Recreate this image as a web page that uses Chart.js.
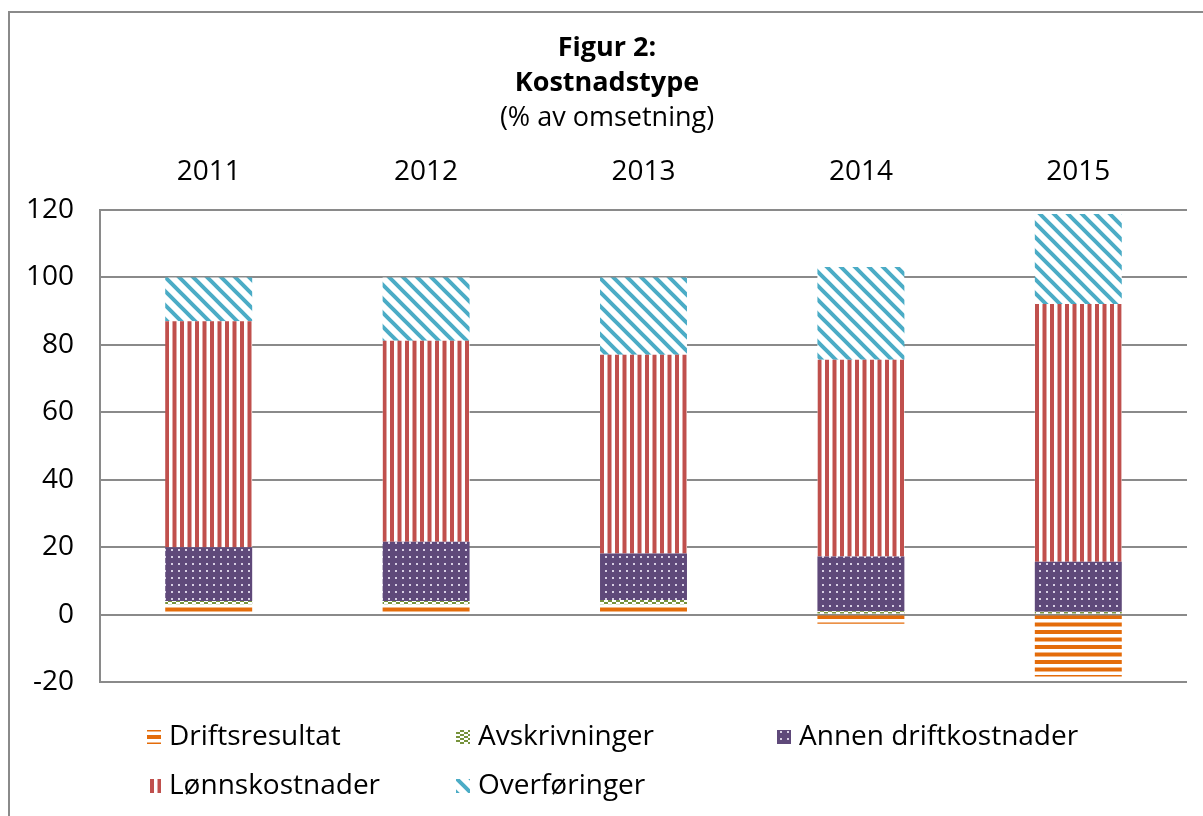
<!DOCTYPE html>
<html>
<head>
<meta charset="utf-8">
<script src="https://cdn.jsdelivr.net/npm/chart.js@4"></script>
<style>
  html, body { margin: 0; padding: 0; background: #fff; }
  #wrap { width: 1203px; height: 816px; }
</style>
</head>
<body>
<div id="wrap"><canvas id="chart" width="1203" height="816"></canvas></div>
<script>
const years = ['2011', '2012', '2013', '2014', '2015'];
const driftsresultat = [3, 3, 3, -2.7, -18.4];
const avskrivninger = [1, 1, 1.3, 1, 0.8];
const annenDrift = [16, 17.6, 13.8, 16.2, 14.9];
const lonnskostnader = [67, 59.6, 59, 58.4, 76.4];
const overforinger = [13, 18.8, 22.9, 27.5, 26.7];
const yTicks = [-20, 0, 20, 40, 60, 80, 100, 120];

const FONT = 'Open Sans';

// little pattern tiles
function makePattern(w, h, draw) {
  const c = document.createElement('canvas');
  c.width = w; c.height = h;
  const g = c.getContext('2d');
  g.fillStyle = '#fff';
  g.fillRect(0, 0, w, h);
  draw(g);
  return document.getElementById('chart').getContext('2d').createPattern(c, 'repeat');
}

const orangeLines = makePattern(15, 15, g => {
  g.fillStyle = '#E46C0A';
  g.fillRect(0, 0, 15, 4);
  g.fillRect(0, 7.5, 15, 4);
});
const greenChecks = makePattern(8, 4, g => {
  g.fillStyle = '#77933C';
  g.fillRect(0, 0, 4, 2);
  g.fillRect(4, 2, 4, 2);
});
const purpleDots = makePattern(7, 7, g => {
  g.fillStyle = '#5F497A';
  g.fillRect(0, 0, 7, 7);
  g.fillStyle = '#D8CFE4';
  g.fillRect(3, 3, 2, 2);
});
const redLines = makePattern(15, 15, g => {
  g.fillStyle = '#C0504D';
  g.fillRect(0, 0, 4, 15);
  g.fillRect(7.5, 0, 4, 15);
});
const blueDiag = makePattern(14, 14, g => {
  g.strokeStyle = '#4BACC6';
  g.lineWidth = 4;
  g.beginPath();
  g.moveTo(-2, -2); g.lineTo(16, 16);
  g.moveTo(-9, 5); g.lineTo(2, 16);
  g.moveTo(5, -9); g.lineTo(16, 2);
  g.stroke();
});

const series = [
  { label: 'Driftsresultat', data: driftsresultat, fill: orangeLines },
  { label: 'Avskrivninger', data: avskrivninger, fill: greenChecks },
  { label: 'Annen driftkostnader', data: annenDrift, fill: purpleDots },
  { label: 'Lønnskostnader', data: lonnskostnader, fill: redLines },
  { label: 'Overføringer', data: overforinger, fill: blueDiag }
];

// frame, title and legend drawn around the chart area
const decor = {
  id: 'decor',
  beforeDraw(chart) {
    const ctx = chart.ctx;
    ctx.save();
    ctx.strokeStyle = '#8a8a8a';
    ctx.lineWidth = 2;
    ctx.strokeRect(9, 12, 1220, 840);
    ctx.restore();
  },
  afterDraw(chart) {
    const ctx = chart.ctx;
    ctx.save();
    ctx.fillStyle = '#000';
    ctx.textAlign = 'center';
    ctx.textBaseline = 'middle';
    ctx.font = 'bold 27px "' + FONT + '"';
    ctx.fillText('Figur 2:', 607, 48);
    ctx.fillText('Kostnadstype', 607, 83);
    ctx.font = '27px "' + FONT + '"';
    ctx.fillText('(% av omsetning)', 607, 118);

    const cols = [147, 456, 777];
    const rows = [737, 786];
    ctx.font = '28px "' + FONT + '"';
    ctx.textAlign = 'left';
    series.forEach((s, i) => {
      const x = cols[i % 3];
      const y = rows[Math.floor(i / 3)];
      ctx.fillStyle = s.fill;
      ctx.fillRect(x, y - 7, 14, 14);
      ctx.fillStyle = '#000';
      ctx.fillText(s.label, x + 22, y);
    });
    ctx.restore();
  }
};

new Chart(document.getElementById('chart'), {
  type: 'bar',
  data: {
    labels: years,
    datasets: series.map(s => ({
      label: s.label,
      data: s.data,
      backgroundColor: s.fill,
      borderWidth: 0,
      barPercentage: 0.4,
      categoryPercentage: 1
    }))
  },
  options: {
    responsive: false,
    animation: false,
    layout: { padding: { left: 8, right: 16, top: 140, bottom: 134 } },
    plugins: {
      legend: { display: false },
      tooltip: { enabled: false }
    },
    scales: {
      x: {
        position: 'top',
        stacked: true,
        grid: { display: false },
        border: { display: false },
        ticks: { color: '#000', font: { family: FONT, size: 28 }, padding: 13 },
        afterFit: s => { s.height = 70; }
      },
      y: {
        stacked: true,
        min: -20,
        max: 120,
        afterBuildTicks: s => { s.ticks = yTicks.map(v => ({ value: v })); },
        grid: { color: '#8a8a8a', lineWidth: 2, drawTicks: false },
        border: { display: true, color: '#8a8a8a', width: 2 },
        ticks: { color: '#000', font: { family: FONT, size: 28 }, padding: 26 },
        afterFit: s => { s.width = 92; }
      }
    }
  },
  plugins: [decor]
});
</script>
</body>
</html>
